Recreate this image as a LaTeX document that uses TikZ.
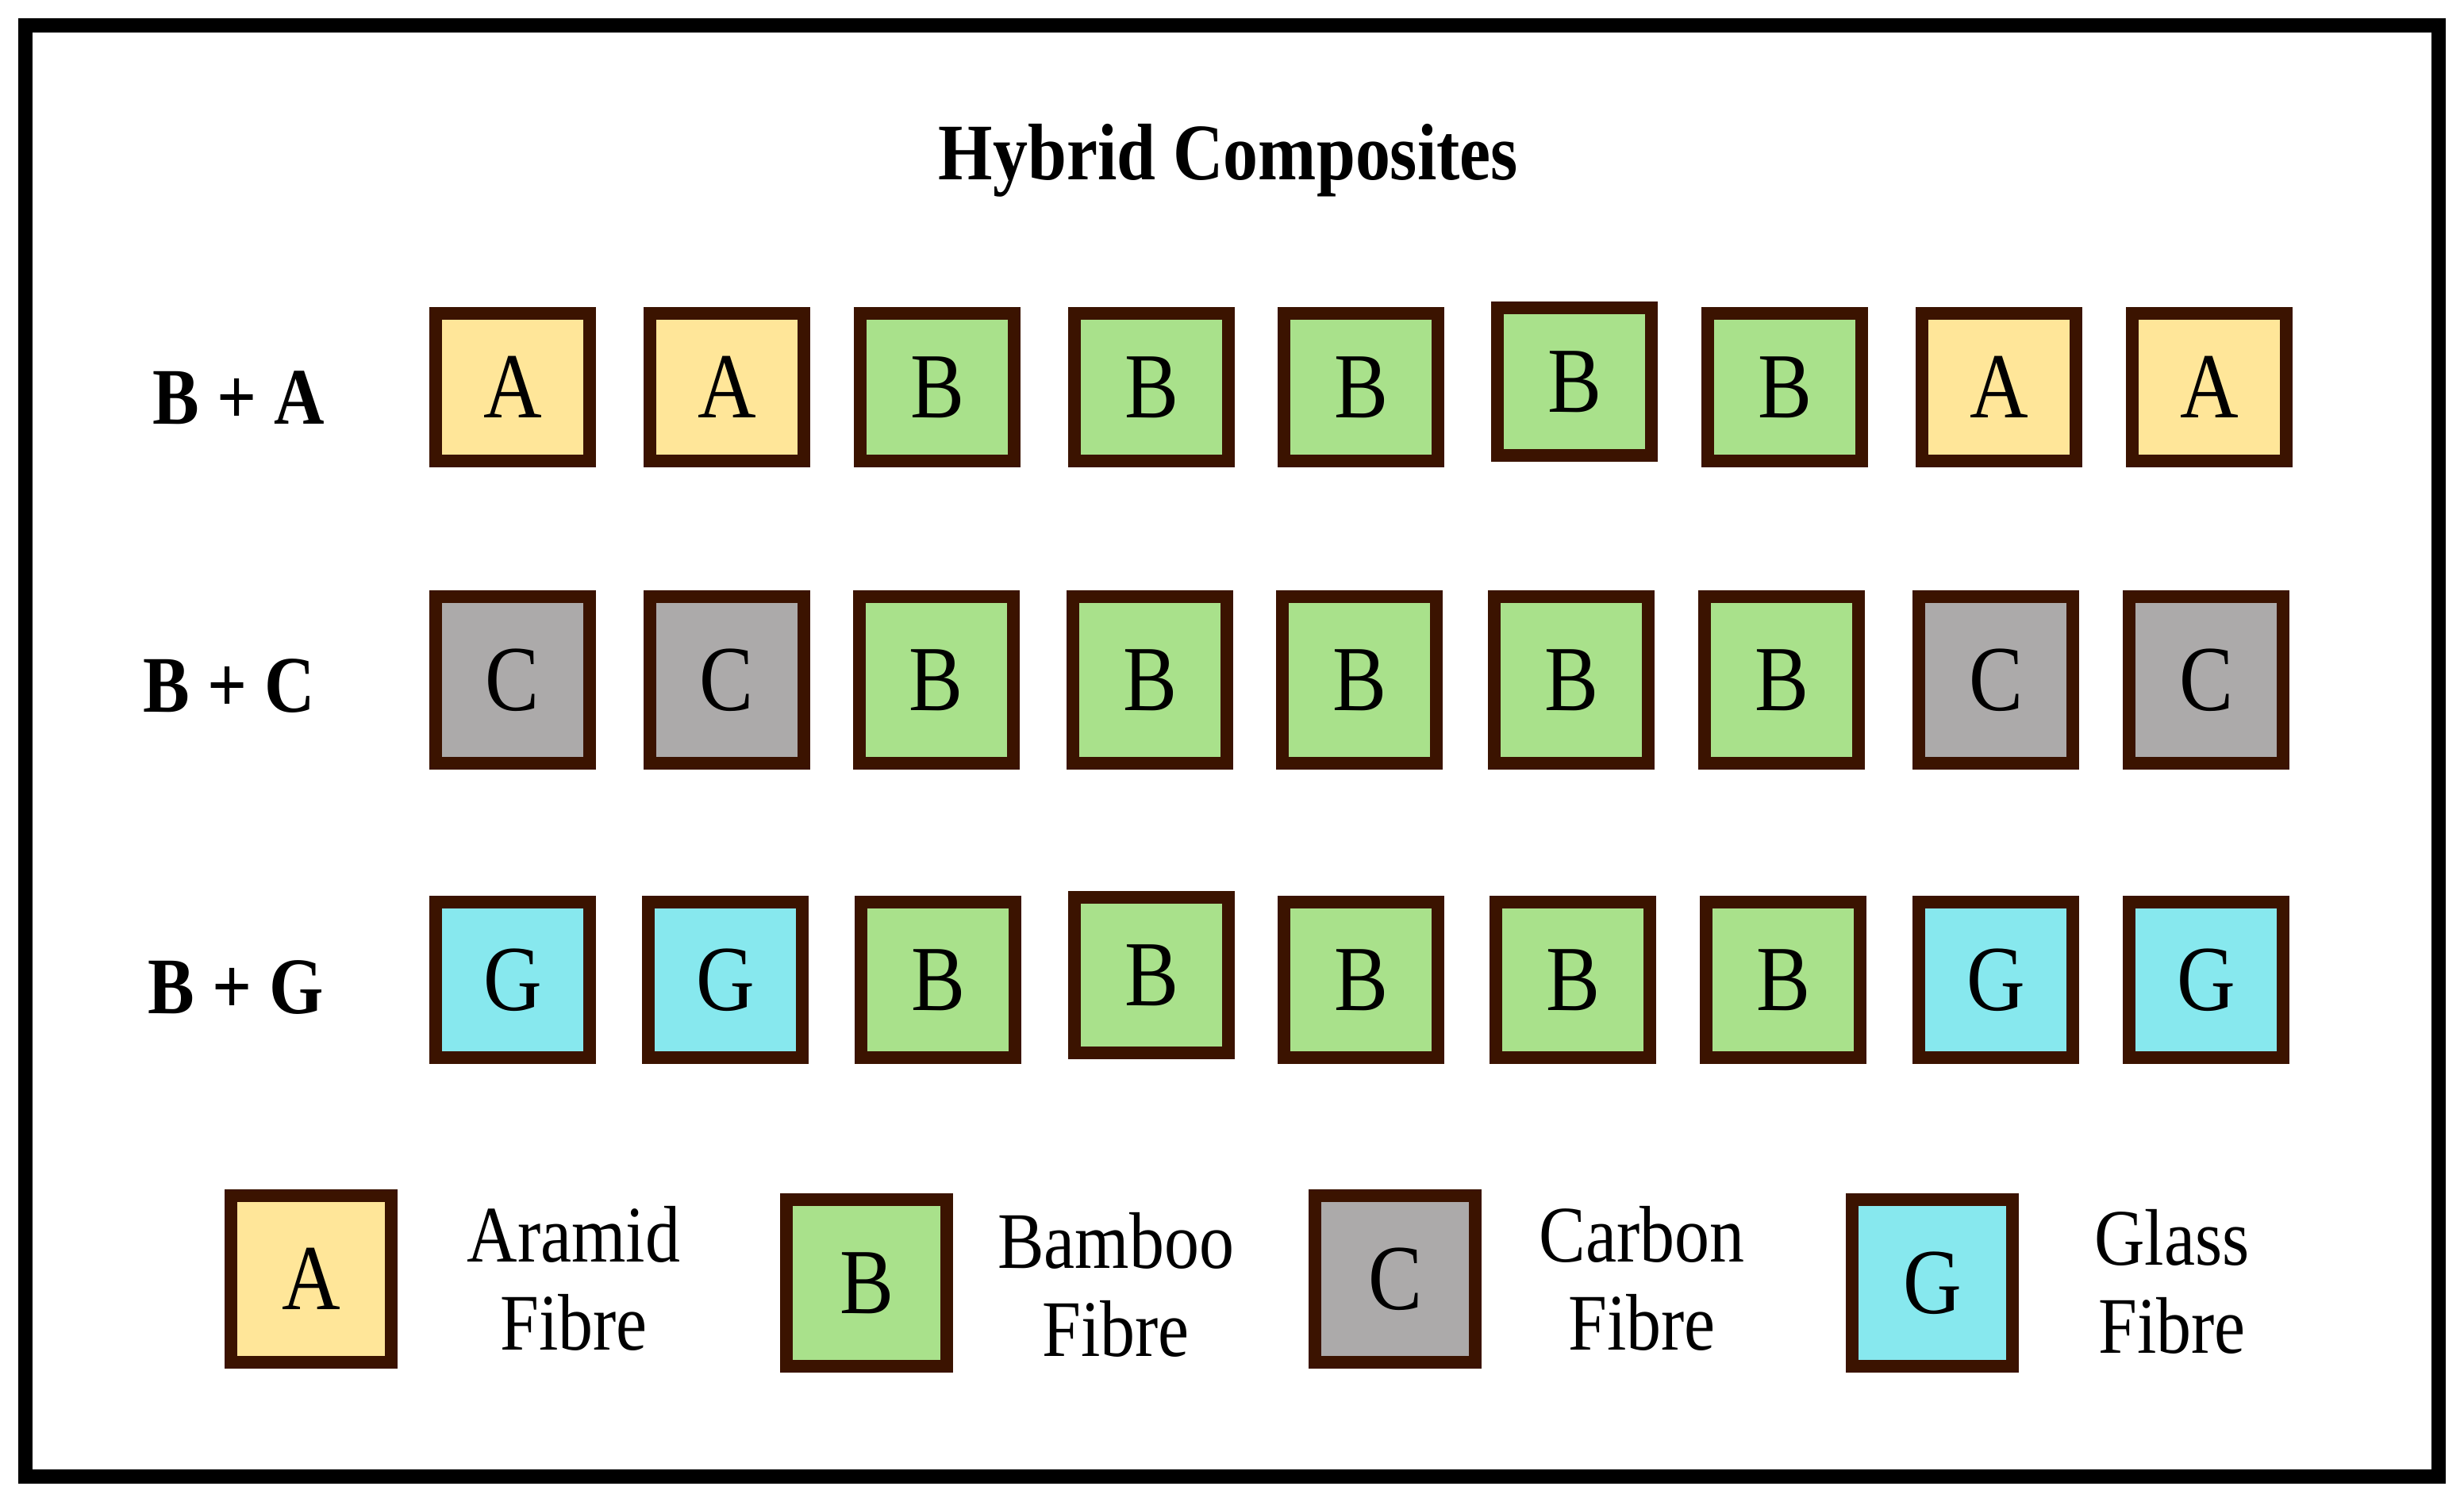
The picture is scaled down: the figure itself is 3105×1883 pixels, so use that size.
\documentclass[tikz,border=0pt]{standalone}
\usepackage{fontspec}
\setmainfont{Liberation Serif}
\definecolor{cA}{HTML}{FFE699}
\definecolor{cB}{HTML}{A9E18B}
\definecolor{cC}{HTML}{ACAAAA}
\definecolor{cG}{HTML}{87E8EE}
\definecolor{brd}{HTML}{3B1300}
\newcommand{\vs}[1]{\scalebox{1}[1.15]{#1}}
\begin{document}
\begin{tikzpicture}[x=0.01cm,y=-0.01cm,
  cell/.style={draw=brd, line width=0.16cm, minimum width=1.94cm, inner sep=0pt,
    font=\fontsize{29}{32}\selectfont},
  rowone/.style={cell, minimum height=1.86cm},
  rowtwo/.style={cell, minimum height=2.10cm},
  rowthree/.style={cell, minimum height=1.96cm},
  legcell/.style={cell, minimum width=2.02cm, minimum height=2.10cm},
  rowlabel/.style={font=\bfseries\fontsize{25}{28}\selectfont},
  legtext/.style={font=\fontsize{25}{27.5}\selectfont, align=center, inner sep=0pt}]
\useasboundingbox (0,0) rectangle (3105,1883);
\draw[line width=0.18cm] (32,32) rectangle (3073,1861);
\node[font=\bfseries\fontsize{25}{28}\selectfont] (title) at (1548,202) {\vs{Hybrid Composites}};
\node[rowlabel] (lab1) at (301,501) {\vs{B + A}};
\node[rowlabel] (lab2) at (289,865) {\vs{B + C}};
\node[rowlabel] (lab3) at (297,1245) {\vs{B + G}};
\foreach \i/\x/\y/\l in {1/646/488/A,2/916/488/A,3/1181/488/B,4/1451/488/B,5/1715/488/B,6/1984/481/B,7/2249/488/B,8/2519/488/A,9/2784/488/A}
  \node[rowone, fill=c\l] (ra\i) at (\x,\y) {\vs{\l}};
\foreach \i/\x/\y/\l in {1/646/857/C,2/916/857/C,3/1180/857/B,4/1449/857/B,5/1713/857/B,6/1980/857/B,7/2245/857/B,8/2515/857/C,9/2780/857/C}
  \node[rowtwo, fill=c\l] (rc\i) at (\x,\y) {\vs{\l}};
\foreach \i/\x/\y/\l in {1/646/1235/G,2/914/1235/G,3/1182/1235/B,4/1451/1229/B,5/1715/1235/B,6/1982/1235/B,7/2247/1235/B,8/2515/1235/G,9/2780/1235/G}
  \node[rowthree, fill=c\l] (rg\i) at (\x,\y) {\vs{\l}};
\node[legcell, fill=cA] (legA) at (392,1612) {\vs{A}};
\node[legcell, fill=cB] (legB) at (1092,1617) {\vs{B}};
\node[legcell, fill=cC] (legC) at (1758,1612) {\vs{C}};
\node[legcell, fill=cG] (legG) at (2435,1617) {\vs{G}};
\node[legtext] (txtA) at (723,1624) {\vs{\begin{tabular}{@{}c@{}}Aramid\\Fibre\end{tabular}}};
\node[legtext] (txtB) at (1406,1632) {\vs{\begin{tabular}{@{}c@{}}Bamboo\\Fibre\end{tabular}}};
\node[legtext] (txtC) at (2069,1624) {\vs{\begin{tabular}{@{}c@{}}Carbon\\Fibre\end{tabular}}};
\node[legtext] (txtG) at (2737,1628) {\vs{\begin{tabular}{@{}c@{}}Glass\\Fibre\end{tabular}}};
\end{tikzpicture}
\end{document}
